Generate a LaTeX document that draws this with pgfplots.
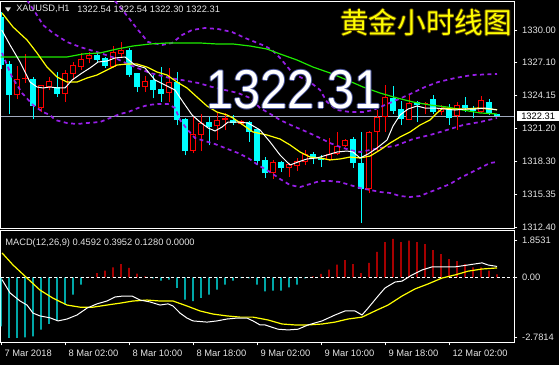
\documentclass[border=0pt]{standalone}
\usepackage{pgfplots}
\pgfplotsset{compat=1.18}
\usepackage{pgfplotstable}
\usepackage{graphicx}
\usepackage{fontspec}
\setmainfont{Liberation Sans}
\newfontfamily\cjk{Noto Sans CJK SC}
\definecolor{mcyan}{RGB}{0,255,255}
\definecolor{mred}{RGB}{255,0,0}
\definecolor{mgreen}{RGB}{30,235,0}
\definecolor{mpurple}{RGB}{150,30,230}
\definecolor{myellow}{RGB}{255,255,0}
\definecolor{mgray}{RGB}{160,170,190}
\definecolor{mtext}{RGB}{228,228,228}
\definecolor{mhalo}{RGB}{70,80,150}
\definecolor{tshadow}{RGB}{90,70,0}

\pgfplotstableread{
i low high blo bhi
0 1326.50 1331.60 1326.87 1331.16
1 1322.49 1327.20 1324.19 1326.96
4 1322.05 1325.80 1323.21 1325.62
7 1324.00 1326.25 1324.28 1324.90
12 1327.05 1328.03 1327.30 1327.77
13 1326.60 1327.60 1326.80 1327.50
16 1325.80 1328.40 1325.98 1328.20
17 1324.46 1326.20 1324.90 1326.16
19 1323.90 1326.00 1324.64 1325.53
20 1323.57 1326.70 1324.28 1324.70
22 1321.50 1326.25 1321.96 1325.35
23 1318.80 1322.10 1319.19 1322.05
26 1319.70 1322.20 1321.30 1321.80
29 1321.50 1322.40 1321.70 1322.00
31 1320.00 1321.90 1320.90 1321.80
32 1317.90 1321.25 1318.30 1321.20
33 1316.80 1318.65 1317.20 1318.40
35 1317.30 1318.30 1317.67 1318.20
39 1318.00 1319.10 1318.56 1318.90
40 1317.80 1318.80 1318.40 1318.60
44 1317.70 1320.40 1318.10 1320.26
45 1312.75 1320.90 1315.80 1318.10
49 1322.50 1325.00 1322.76 1323.90
50 1321.50 1323.70 1322.05 1322.90
52 1321.80 1323.70 1323.30 1323.60
54 1322.50 1324.20 1322.67 1323.80
56 1321.50 1323.40 1322.14 1322.90
58 1322.67 1324.00 1323.00 1323.30
59 1322.10 1323.20 1322.76 1322.90
61 1322.40 1323.80 1322.50 1323.60
62 1322.30 1322.54 1322.31 1322.54
}\tbear

\pgfplotstableread{
i low high blo bhi
2 1323.83 1326.78 1324.19 1325.62
3 1325.30 1327.86 1325.60 1325.70
5 1322.67 1325.10 1323.03 1325.08
6 1324.64 1325.80 1324.90 1325.44
8 1323.57 1326.40 1324.28 1326.16
9 1325.50 1327.14 1326.07 1326.87
10 1326.40 1327.94 1326.70 1327.40
11 1327.05 1328.03 1327.40 1327.77
14 1326.60 1328.57 1326.70 1328.03
15 1327.60 1328.93 1327.86 1328.20
18 1324.50 1325.90 1324.90 1325.44
21 1323.57 1326.60 1324.37 1325.35
24 1319.00 1322.20 1319.19 1320.70
25 1319.19 1322.50 1320.60 1321.70
27 1320.20 1322.60 1321.40 1321.96
28 1321.06 1322.60 1321.96 1322.14
30 1321.50 1321.95 1321.60 1321.90
34 1316.70 1318.40 1317.20 1318.20
36 1316.90 1318.10 1317.67 1318.00
37 1317.40 1318.56 1317.85 1318.30
38 1317.90 1319.30 1318.20 1318.90
41 1318.30 1320.35 1318.40 1318.90
42 1318.80 1320.90 1318.90 1319.60
43 1319.55 1320.30 1319.60 1320.20
46 1315.40 1320.95 1315.80 1320.90
47 1319.10 1322.85 1320.90 1322.20
48 1320.90 1325.10 1322.20 1324.00
51 1321.96 1324.20 1322.00 1323.50
53 1322.50 1323.60 1323.35 1323.45
55 1322.40 1323.30 1322.67 1323.00
57 1321.06 1323.57 1322.30 1323.30
60 1322.60 1324.10 1322.67 1323.74
}\tbull

\pgfplotsset{mt/.style={scale only axis, width=385.125pt,
  axis line style={white,line width=0.75pt},
  tick style={white,line width=0.6pt}, tick align=outside, major tick length=2.6pt,
  tick label style={font=\fontsize{7}{8}\selectfont, text=mtext},
  /pgf/number format/assume math mode=true,
  xmin=-0.0625, xmax=64.125, ytick pos=right, yticklabel pos=right,
  yticklabel style={anchor=west}, clip=true}}

\begin{document}
\begin{tikzpicture}
\fill[black] (0,0) rectangle (419.25pt,-273.75pt);

% ---------------- main price panel ----------------
\begin{axis}[mt, at={(0.375pt,-1.125pt)}, anchor=north west, height=169.875pt,
  ymin=1312.311, ymax=1332.546, xtick=\empty,
  ytick={1330,1327.10,1324.15,1321.20,1318.30,1315.35,1312.40},
  yticklabels={1330.00,1327.10,1324.15,1321.20,1318.30,1315.35,1312.40}]

\addplot[mgray, line width=0.75pt] coordinates {(-0.0625,1322.31) (64.125,1322.31)};

% bearish candles (filled cyan)
\addplot[draw=none, mark=none, forget plot, error bars/.cd, y dir=plus, y explicit, error mark=none,
  error bar style={draw=mcyan, line width=0.75pt}]
  table[x=i, y=low, y error plus expr=\thisrow{high}-\thisrow{low}] {\tbear};
\addplot[draw=none, mark=none, forget plot, error bars/.cd, y dir=plus, y explicit, error mark=none,
  error bar style={draw=mcyan, line width=3.9pt}]
  table[x=i, y=blo, y error plus expr={max(\thisrow{bhi}-\thisrow{blo},0.09)}] {\tbear};
% bullish candles (hollow red)
\addplot[draw=none, mark=none, forget plot, error bars/.cd, y dir=plus, y explicit, error mark=none,
  error bar style={draw=mred, line width=0.75pt}]
  table[x=i, y=low, y error plus expr=\thisrow{high}-\thisrow{low}] {\tbull};
\addplot[draw=none, mark=none, forget plot, error bars/.cd, y dir=plus, y explicit, error mark=none,
  error bar style={draw=mred, line width=3.9pt}]
  table[x=i, y=blo, y error plus expr={max(\thisrow{bhi}-\thisrow{blo},0.09)}] {\tbull};
\addplot[draw=none, mark=none, forget plot, error bars/.cd, y dir=plus, y explicit, error mark=none,
  error bar style={draw=black, line width=2.3pt}]
  table[x=i, y expr=\thisrow{blo}+0.09, y error plus expr={max(\thisrow{bhi}-\thisrow{blo}-0.18,0)}] {\tbull};

% Bollinger bands (purple dashed)
\addplot[mpurple, line width=1.3pt, dash pattern=on 3pt off 2.6pt] coordinates {
(13.63,1333.13) (14.88,1332.05) (15.88,1331.16) (17.13,1330.00) (18.38,1328.93) (20.13,1328.66) (21.38,1328.84) (22.63,1329.55) (23.88,1330.00) (25.5,1330.18) (27.13,1330.09) (28.88,1329.82) (30.5,1329.29) (31.75,1328.93) (33,1328.57) (33.88,1328.21) (34.88,1327.50) (36.13,1326.43) (37.38,1325.80) (38.63,1325.35) (39.88,1324.64) (40.75,1323.57) (42,1322.85) (43.63,1322.67) (45.25,1322.67) (46.5,1322.85) (48.88,1323.57) (50.88,1324.19) (53,1324.91) (54.63,1325.35) (56.75,1325.71) (58.88,1325.98) (62,1326.07)};
\addplot[mpurple, line width=1.3pt, dash pattern=on 3pt off 2.6pt] coordinates {
(3.25,1332.68) (4.25,1331.61) (5.25,1330.45) (6.5,1329.73) (8.25,1328.93) (9.88,1328.48) (12,1328.03) (14.25,1327.50) (16.13,1326.87) (18.63,1326.16) (21.13,1325.71) (22.63,1325.53) (24.63,1325.27) (26.38,1324.91) (28,1324.64) (29.63,1324.37) (31.13,1323.93) (32.38,1323.03) (33.88,1322.41) (34.88,1321.96) (36.5,1321.42) (38.25,1320.89) (39.88,1320.35) (41.13,1319.90) (42.38,1319.55) (43.63,1319.28) (44.88,1319.10) (46.13,1319.28) (47.38,1319.46) (49.25,1319.64) (51.5,1320.26) (53.63,1320.62) (55.75,1321.07) (57.75,1321.51) (59.88,1321.78) (62,1322.14)};
\addplot[mpurple, line width=1.3pt, dash pattern=on 3pt off 2.6pt] coordinates {
(0.13,1327.95) (1.38,1325.80) (2.63,1324.37) (4,1323.30) (5.25,1322.67) (6.13,1322.41) (6.75,1321.96) (8.25,1321.69) (9.5,1321.60) (10.75,1321.69) (12.38,1321.78) (13.63,1322.14) (14.88,1322.50) (15.88,1322.67) (17.13,1323.03) (18.38,1323.30) (19.63,1323.39) (20.88,1323.39) (21.75,1323.03) (22.38,1321.96) (23.25,1321.15) (24.25,1320.35) (25.5,1320.08) (26.75,1319.81) (28,1319.46) (29.63,1319.01) (30.88,1318.57) (32.13,1317.94) (33.63,1317.31) (34.88,1316.69) (36.13,1316.15) (37.38,1315.97) (38.63,1316.24) (39.88,1316.51) (41.13,1316.51) (42.38,1316.42) (43.63,1316.15) (44.88,1315.88) (46.13,1315.71) (47.38,1315.53) (48.63,1315.44) (49.88,1315.17) (51.13,1315.08) (52.38,1315.17) (53.63,1315.53) (54.88,1315.88) (56.13,1316.24) (57.38,1316.78) (58.63,1317.22) (59.88,1317.67) (61.13,1318.12) (62,1318.21)};

% slow MA (green)
\addplot[mgreen, line width=0.9pt] coordinates {
(-0.06,1327.59) (4,1327.59) (8.25,1327.59) (10.25,1327.86) (12.38,1327.95) (14.5,1328.30) (16.5,1328.57) (18.63,1328.75) (20.75,1328.84) (22.75,1328.84) (24.88,1328.84) (27,1328.75) (29,1328.75) (31.13,1328.57) (33.25,1328.30) (34.88,1327.86) (37,1327.32) (39,1326.69) (41.13,1326.16) (43.25,1325.53) (45.25,1324.91) (47.38,1324.37) (49.5,1323.93) (51.5,1323.57) (53.63,1323.30) (55.75,1323.12) (57.75,1322.85) (59.88,1322.59) (62,1322.50)};
% MA10 (yellow)
\addplot[myellow, line width=0.9pt] coordinates {
(0.13,1331.52) (1.5,1330.27) (3.25,1329.11) (4.5,1327.95) (5.75,1326.69) (7,1325.80) (8.25,1325.35) (9.5,1325.35) (10.75,1325.71) (12,1325.98) (13.25,1326.43) (14.5,1326.87) (15.75,1326.96) (17,1326.96) (18.25,1326.69) (19.5,1326.25) (20.75,1325.98) (22,1325.35) (23.25,1324.82) (24.5,1324.01) (25.75,1323.21) (27,1322.67) (28.25,1322.41) (29,1322.14) (31.5,1320.89) (33.25,1320.62) (34.88,1320.26) (36.13,1319.73) (37.38,1319.10) (38.63,1318.65) (39.88,1318.57) (41.13,1318.39) (42.38,1318.48) (43.63,1318.65) (44.88,1318.57) (46.13,1318.74) (47.38,1319.28) (48.63,1319.90) (49.88,1320.44) (51.13,1320.89) (52.38,1321.51) (53.63,1321.96) (54.5,1322.59) (55.25,1323.03) (56.38,1322.94) (58,1322.94) (59.63,1323.03) (62,1322.88)};
% MA5 (white)
\addplot[white, line width=0.75pt] coordinates {
(0.09,1330.00) (1.13,1328.66) (2.38,1327.14) (3.63,1325.35) (4.5,1324.91) (5.25,1324.82) (6.13,1324.91) (7.13,1324.82) (8,1324.82) (8.88,1325.53) (10.13,1326.16) (11.13,1326.61) (12.13,1327.14) (13.25,1327.23) (14.25,1327.50) (15.5,1327.59) (16.75,1326.87) (18,1326.61) (19.25,1325.53) (20.5,1325.09) (21.75,1324.64) (22.75,1323.57) (23.88,1322.41) (24.88,1321.78) (25.88,1321.25) (26.75,1320.98) (27.63,1321.33) (28.38,1321.78) (29.63,1321.78) (30.88,1321.69) (31.75,1321.33) (32.38,1321.07) (33.63,1320.00) (34.88,1318.83) (36.13,1317.94) (37.13,1318.21) (38.25,1318.48) (39.5,1318.57) (40.75,1318.83) (42,1319.10) (43.25,1319.19) (44,1319.10) (44.88,1318.57) (45.88,1318.92) (47,1319.46) (48.25,1320.17) (49,1321.42) (49.88,1322.41) (50.88,1322.94) (52,1323.21) (53,1323.03) (54.25,1323.03) (55.5,1322.94) (56.75,1322.85) (58,1322.94) (59.25,1322.94) (60.5,1323.03) (62,1322.86)};
\end{axis}

% ---------------- MACD panel ----------------
\begin{axis}[mt, at={(0.375pt,-172.875pt)}, anchor=north west, height=83.625pt,
  ymin=-2.73, ymax=1.975,
  xtick={0,8,16,24,32,40,48,56},
  xticklabels={7 Mar 2018,8 Mar 02:00,8 Mar 10:00,8 Mar 18:00,9 Mar 02:00,9 Mar 10:00,9 Mar 18:00,12 Mar 02:00},
  xtick pos=bottom, xticklabel style={anchor=north west, xshift=-0.9pt},
  ytick={-2.519,0,1.574}, yticklabels={-2.7814,0.00,1.8531}]
\addplot[ybar, bar width=0.95pt, bar shift=0pt, draw=none, fill=mcyan] coordinates {
(0,-2.07) (1,-2.56) (2,-2.56) (3,-2.53) (4,-2.49) (5,-2.21) (6,-1.96) (7,-1.82) (8,-1.15) (9,-0.73) (10,-0.31)
(19,-0.05) (20,-0.14) (21,-0.10) (22,-0.45) (23,-0.94) (24,-1.01) (25,-0.87) (26,-0.73) (27,-0.52) (28,-0.31) (29,-0.14) (30,-0.03) (31,-0.05) (32,-0.31) (33,-0.59) (34,-0.56) (35,-0.56) (36,-0.42) (37,-0.31) (38,-0.05)};
\addplot[ybar, bar width=0.95pt, bar shift=0pt, draw=none, fill=mred] coordinates {
(11,0.02) (12,0.18) (13,0.28) (14,0.42) (15,0.56) (16,0.40) (17,0.16) (18,0.04)
(39,0.04) (40,0.14) (41,0.32) (42,0.54) (43,0.73) (44,0.56) (45,0.18) (46,0.61) (47,1.07) (48,1.49) (49,1.62) (50,1.49) (51,1.55) (52,1.49) (53,1.40) (54,1.15) (55,0.98) (56,0.77) (57,0.68) (58,0.56) (59,0.42) (60,0.42) (61,0.28) (62,0.128)};
\addplot[white, line width=0.75pt, dash pattern=on 2.4pt off 1.6pt] coordinates {(-0.0625,0) (64.125,0)};
% signal (yellow)
\addplot[myellow, line width=0.9pt] coordinates {
(0.13,1.03) (1.5,0.52) (3.25,-0.03) (4.88,-0.54) (6.5,-0.88) (8.25,-1.17) (9.88,-1.26) (11.5,-1.26) (13.25,-1.17) (14.88,-1.09) (16.5,-1.00) (18.25,-0.96) (19.88,-1.00) (21.5,-1.00) (23.25,-1.21) (24.88,-1.42) (26.5,-1.55) (28.25,-1.63) (29.88,-1.68) (31.5,-1.68) (33.38,-1.80) (35.13,-1.97) (36.75,-2.01) (38.38,-2.01) (40.13,-1.97) (41.75,-1.89) (43.38,-1.76) (45.13,-1.68) (46.75,-1.42) (48.38,-1.17) (50.13,-0.79) (51.75,-0.49) (53.38,-0.28) (55.13,-0.03) (56.75,0.10) (58.38,0.26) (60.13,0.35) (62,0.3952)};
% MACD (white)
\addplot[white, line width=0.75pt] coordinates {
(0.13,-0.10) (1.13,-0.66) (2.38,-1.00) (3.25,-1.17) (4,-1.51) (4.88,-1.63) (6.13,-1.71) (7.13,-1.84) (8.25,-1.76) (9.5,-1.59) (10.75,-1.30) (12,-1.12) (13.25,-1.00) (14.25,-0.83) (15.25,-0.79) (16.38,-0.79) (17.38,-0.96) (18.63,-1.04) (19.88,-1.17) (20.88,-1.12) (21.5,-1.21) (22.38,-1.51) (23.25,-1.72) (24,-1.84) (25.75,-1.89) (27,-1.84) (28.25,-1.76) (29.5,-1.72) (30.75,-1.72) (31.5,-1.84) (32.38,-2.01) (33,-2.01) (34.63,-2.19) (35.88,-2.22) (37.13,-2.19) (38.38,-2.01) (40.13,-1.84) (41.75,-1.59) (43,-1.42) (44.25,-1.42) (45.13,-1.59) (45.88,-1.30) (47.13,-0.79) (48,-0.45) (49.25,-0.20) (50.13,-0.16) (51.38,0.10) (52.63,0.31) (53.88,0.44) (55.13,0.44) (56.75,0.44) (58.38,0.52) (60.13,0.61) (60.88,0.52) (62,0.4592)};
\end{axis}

% ---------------- texts ----------------
\fill[mtext] (3.75pt,-5.5pt) -- (8.25pt,-5.5pt) -- (6pt,-8.75pt) -- cycle;
\node[anchor=west, inner sep=0pt, font=\fontsize{7}{8}\selectfont, text=mtext] at (12pt,-7pt) {XAUUSD,H1};
\node[anchor=west, inner sep=0pt, font=\fontsize{7}{8}\selectfont, text=mtext] at (57.75pt,-7pt) {1322.54 1322.54 1322.30 1322.31};
\node[anchor=west, inner sep=0pt, font=\fontsize{7}{8}\selectfont, text=mtext] at (3.75pt,-182pt) {MACD(12,26,9) 0.4592 0.3952 0.1280 0.0000};

\node[fill=white, text=black, anchor=west, inner xsep=3pt, inner ysep=1.3pt, font=\fontsize{7}{8}\selectfont] at (387.75pt,-87pt) {1322.31};

\foreach \dx/\dy in {0.7/0,-0.7/0,0/0.7,0/-0.7}{
  \node[text=mhalo, inner sep=0pt, font=\fontsize{41}{41}\selectfont] at (220.5pt+\dx pt,-67.5pt+\dy pt) {\scalebox{0.89}[1]{1322.31}};
}
\node[text=white, inner sep=0pt, font=\fontsize{41}{41}\selectfont] at (220.5pt,-67.5pt) {\scalebox{0.89}[1]{1322.31}};

\foreach \dx/\dy in {0.6/0,-0.6/0,0/0.6,0/-0.6}{
  \node[text=tshadow, inner sep=0pt, font=\cjk\fontsize{21.5}{22}\selectfont] at (319.5pt+\dx pt,-16.9pt+\dy pt) {黄金小时线图};
}
\node[text=myellow, inner sep=0pt, font=\cjk\fontsize{21.5}{22}\selectfont] at (319.5pt,-16.9pt) {黄金小时线图};

\pgfresetboundingbox
\useasboundingbox (0,0) rectangle (419.25pt,-273.75pt);
\end{tikzpicture}
\end{document}
